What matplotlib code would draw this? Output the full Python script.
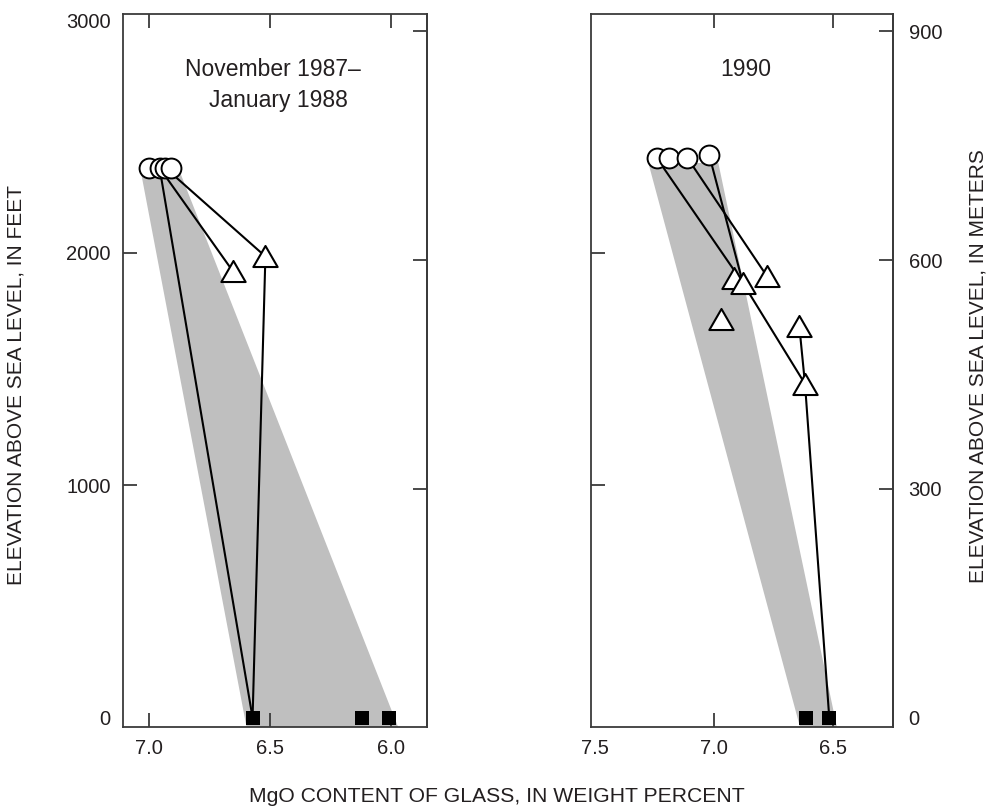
import matplotlib
matplotlib.use("Agg")
import matplotlib.pyplot as plt
from matplotlib.path import Path
from matplotlib.ticker import FixedLocator, NullFormatter, FixedFormatter

plt.rcParams['font.family'] = ['Liberation Sans', 'DejaVu Sans']

FT2M = 0.3048
INK = '#231f20'
GRAY = '#bfbfbf'

# ---------------- Left panel: November 1987 - January 1988 ----------------
L_circle_mgo = [7.00, 6.955, 6.931, 6.906]
L_circle_elev = [2365, 2365, 2365, 2365]
L_tri_mgo = [6.652, 6.518]
L_tri_elev = [1920, 1984]
L_sq_mgo = [6.571, 6.121, 6.008]
L_sq_elev = [0, 0, 0]
L_band_mgo = [7.030, 6.872, 5.970, 6.596]
L_band_elev = [2336, 2350, -40, -40]
L_lines_mgo = [[6.955, 6.571], [6.955, 6.652], [6.931, 6.518, 6.571]]
L_lines_elev = [[2365, 0], [2365, 1920], [2365, 1984, 0]]

# ---------------- Right panel: 1990 ----------------
R_circle_mgo = [7.241, 7.188, 7.112, 7.020]
R_circle_elev = [2408, 2408, 2408, 2419]
R_tri_mgo = [6.915, 6.879, 6.779, 6.971, 6.642, 6.618]
R_tri_elev = [1891, 1870, 1901, 1715, 1686, 1436]
R_sq_mgo = [6.613, 6.516]
R_sq_elev = [0, 0]
R_band_mgo = [7.276, 6.982, 6.484, 6.639]
R_band_elev = [2386, 2386, -40, -40]
R_lines_mgo = [[7.241, 6.879, 6.618], [7.112, 6.779], [7.020, 6.879],
               [6.642, 6.618], [6.618, 6.516]]
R_lines_elev = [[2408, 1870, 1436], [2408, 1901], [2419, 1870],
                [1686, 1436], [1436, 0]]

# ---------------- Axis ticks / labels ----------------
L_xticks = [7.0, 6.5, 6.0]
R_xticks_lab = [7.5, 7.0, 6.5]
R_xticks_mark = [7.0, 6.5]
ft_ticks_lab = [0, 1000, 2000, 3000]
ft_ticks_mark = [1000, 2000]
m_ticks_lab = [0, 300, 600, 900]
m_ticks_mark = [300, 600, 900]

title_left_1 = "November 1987\u2013"
title_left_2 = "January 1988"
title_right = "1990"
xlabel = "MgO CONTENT OF GLASS, IN WEIGHT PERCENT"
ylabel_ft = "ELEVATION ABOVE SEA LEVEL, IN FEET"
ylabel_m = "ELEVATION ABOVE SEA LEVEL, IN METERS"

W, H = 990, 808
fig = plt.figure(figsize=(W / 100, H / 100), dpi=100)

def fx(px):
    return px / W

def fy(py):
    return 1 - py / H

axL = fig.add_axes([fx(123), fy(727), fx(426.7 - 123), (727 - 14) / H])
axR = fig.add_axes([fx(591), fy(727), fx(893.3 - 591), (727 - 14) / H])

TRI = Path([(-1, -0.866), (1, -0.866), (0, 0.866), (-1, -0.866)],
           [Path.MOVETO, Path.LINETO, Path.LINETO, Path.CLOSEPOLY])
TICKLEN = 10
SPINE = '#3a3a3a'

def draw_panel(ax, band_x, band_y, lines_x, lines_y, cx, cy, tx, ty, sx, sy):
    ax.fill(band_x, band_y, color=GRAY, lw=0, zorder=1)
    for lx, ly in zip(lines_x, lines_y):
        ax.plot(lx, ly, color='black', lw=1.5, zorder=2, solid_capstyle='butt')
    for x, y in zip(cx, cy):
        ax.plot([x], [y], ls='none', marker='o', ms=14.3, mfc='white',
                mec='black', mew=1.4, zorder=3)
    for x, y in zip(tx, ty):
        ax.plot([x], [y], ls='none', marker=TRI, ms=17.5, mfc='white',
                mec='black', mew=1.5, zorder=4)
    ax.plot(sx, sy, ls='none', marker='s', ms=9.8, mfc='black', mec='black',
            mew=0, zorder=5)
    ax.set_ylim(-40, 3027)
    for s in ax.spines.values():
        s.set_color(SPINE)
        s.set_linewidth(1.3)

draw_panel(axL, L_band_mgo, L_band_elev, L_lines_mgo, L_lines_elev,
           L_circle_mgo, L_circle_elev, L_tri_mgo, L_tri_elev, L_sq_mgo, L_sq_elev)
draw_panel(axR, R_band_mgo, R_band_elev, R_lines_mgo, R_lines_elev,
           R_circle_mgo, R_circle_elev, R_tri_mgo, R_tri_elev, R_sq_mgo, R_sq_elev)

axL.set_xlim(7.106, 5.852)
axR.set_xlim(7.517, 6.247)

# ---- left panel ticks ----
axL.xaxis.remove_overlapping_locs = False
axL.yaxis.remove_overlapping_locs = False
axL.xaxis.set_major_locator(FixedLocator(L_xticks))
axL.xaxis.set_major_formatter(FixedFormatter([f"{v:.1f}" for v in L_xticks]))
axL.xaxis.set_minor_locator(FixedLocator(L_xticks))
axL.xaxis.set_minor_formatter(NullFormatter())
axL.tick_params(axis='x', which='major', length=0, pad=9, labelsize=14.5, labelcolor=INK)
axL.tick_params(axis='x', which='minor', direction='in', length=TICKLEN, width=1.3,
                color=SPINE, top=True, bottom=True)
axL.yaxis.set_major_locator(FixedLocator(ft_ticks_lab))
axL.yaxis.set_major_formatter(FixedFormatter([str(v) for v in ft_ticks_lab]))
axL.yaxis.set_minor_locator(FixedLocator(ft_ticks_mark))
axL.yaxis.set_minor_formatter(NullFormatter())
axL.tick_params(axis='y', which='major', length=0, pad=9, labelsize=14.5, labelcolor=INK)
axL.tick_params(axis='y', which='minor', direction='in', length=TICKLEN, width=1.3,
                color=SPINE, left=True, right=False)
secL = axL.secondary_yaxis('right', functions=(lambda f: f * FT2M, lambda m: m / FT2M))
secL.set_yticks(m_ticks_mark)
secL.set_yticklabels([])
secL.tick_params(direction='in', length=TICKLEN, width=1.3, color=SPINE)
secL.spines['right'].set_color(SPINE)
secL.spines['right'].set_linewidth(1.3)

# ---- right panel ticks ----
axR.xaxis.remove_overlapping_locs = False
axR.yaxis.remove_overlapping_locs = False
axR.xaxis.set_major_locator(FixedLocator(R_xticks_lab))
axR.xaxis.set_major_formatter(FixedFormatter([f"{v:.1f}" for v in R_xticks_lab]))
axR.xaxis.set_minor_locator(FixedLocator(R_xticks_mark))
axR.xaxis.set_minor_formatter(NullFormatter())
axR.tick_params(axis='x', which='major', length=0, pad=9, labelsize=14.5, labelcolor=INK)
axR.tick_params(axis='x', which='minor', direction='in', length=TICKLEN, width=1.3,
                color=SPINE, top=True, bottom=True)
axR.yaxis.set_major_locator(FixedLocator(ft_ticks_mark))
axR.yaxis.set_major_formatter(NullFormatter())
axR.tick_params(axis='y', which='major', direction='in', length=TICKLEN, width=1.3,
                color=SPINE, left=True, right=False)
secR = axR.secondary_yaxis('right', functions=(lambda f: f * FT2M, lambda m: m / FT2M))
secR.yaxis.remove_overlapping_locs = False
secR.yaxis.set_major_locator(FixedLocator(m_ticks_lab))
secR.yaxis.set_major_formatter(FixedFormatter([str(v) for v in m_ticks_lab]))
secR.yaxis.set_minor_locator(FixedLocator(m_ticks_mark))
secR.yaxis.set_minor_formatter(NullFormatter())
secR.tick_params(which='major', length=0, pad=11, labelsize=14.5, labelcolor=INK)
secR.tick_params(which='minor', direction='in', length=TICKLEN, width=1.3, color=SPINE)
secR.spines['right'].set_color(SPINE)
secR.spines['right'].set_linewidth(1.3)

# ---- texts ----
fig.text(fx(272.5), fy(70), title_left_1, ha='center', va='center', fontsize=16.5, color=INK)
fig.text(fx(278.7), fy(100), title_left_2, ha='center', va='center', fontsize=16.5, color=INK)
fig.text(fx(746), fy(70), title_right, ha='center', va='center', fontsize=16.5, color=INK)
fig.text(fx(497), fy(796), xlabel, ha='center', va='center', fontsize=15.2, color=INK)
fig.text(fx(16), fy(385), ylabel_ft, ha='center', va='center', rotation=90,
         fontsize=15, color=INK)
fig.text(fx(978), fy(366), ylabel_m, ha='center', va='center', rotation=90,
         fontsize=15, color=INK)

fig.savefig("out.png", dpi=100)
